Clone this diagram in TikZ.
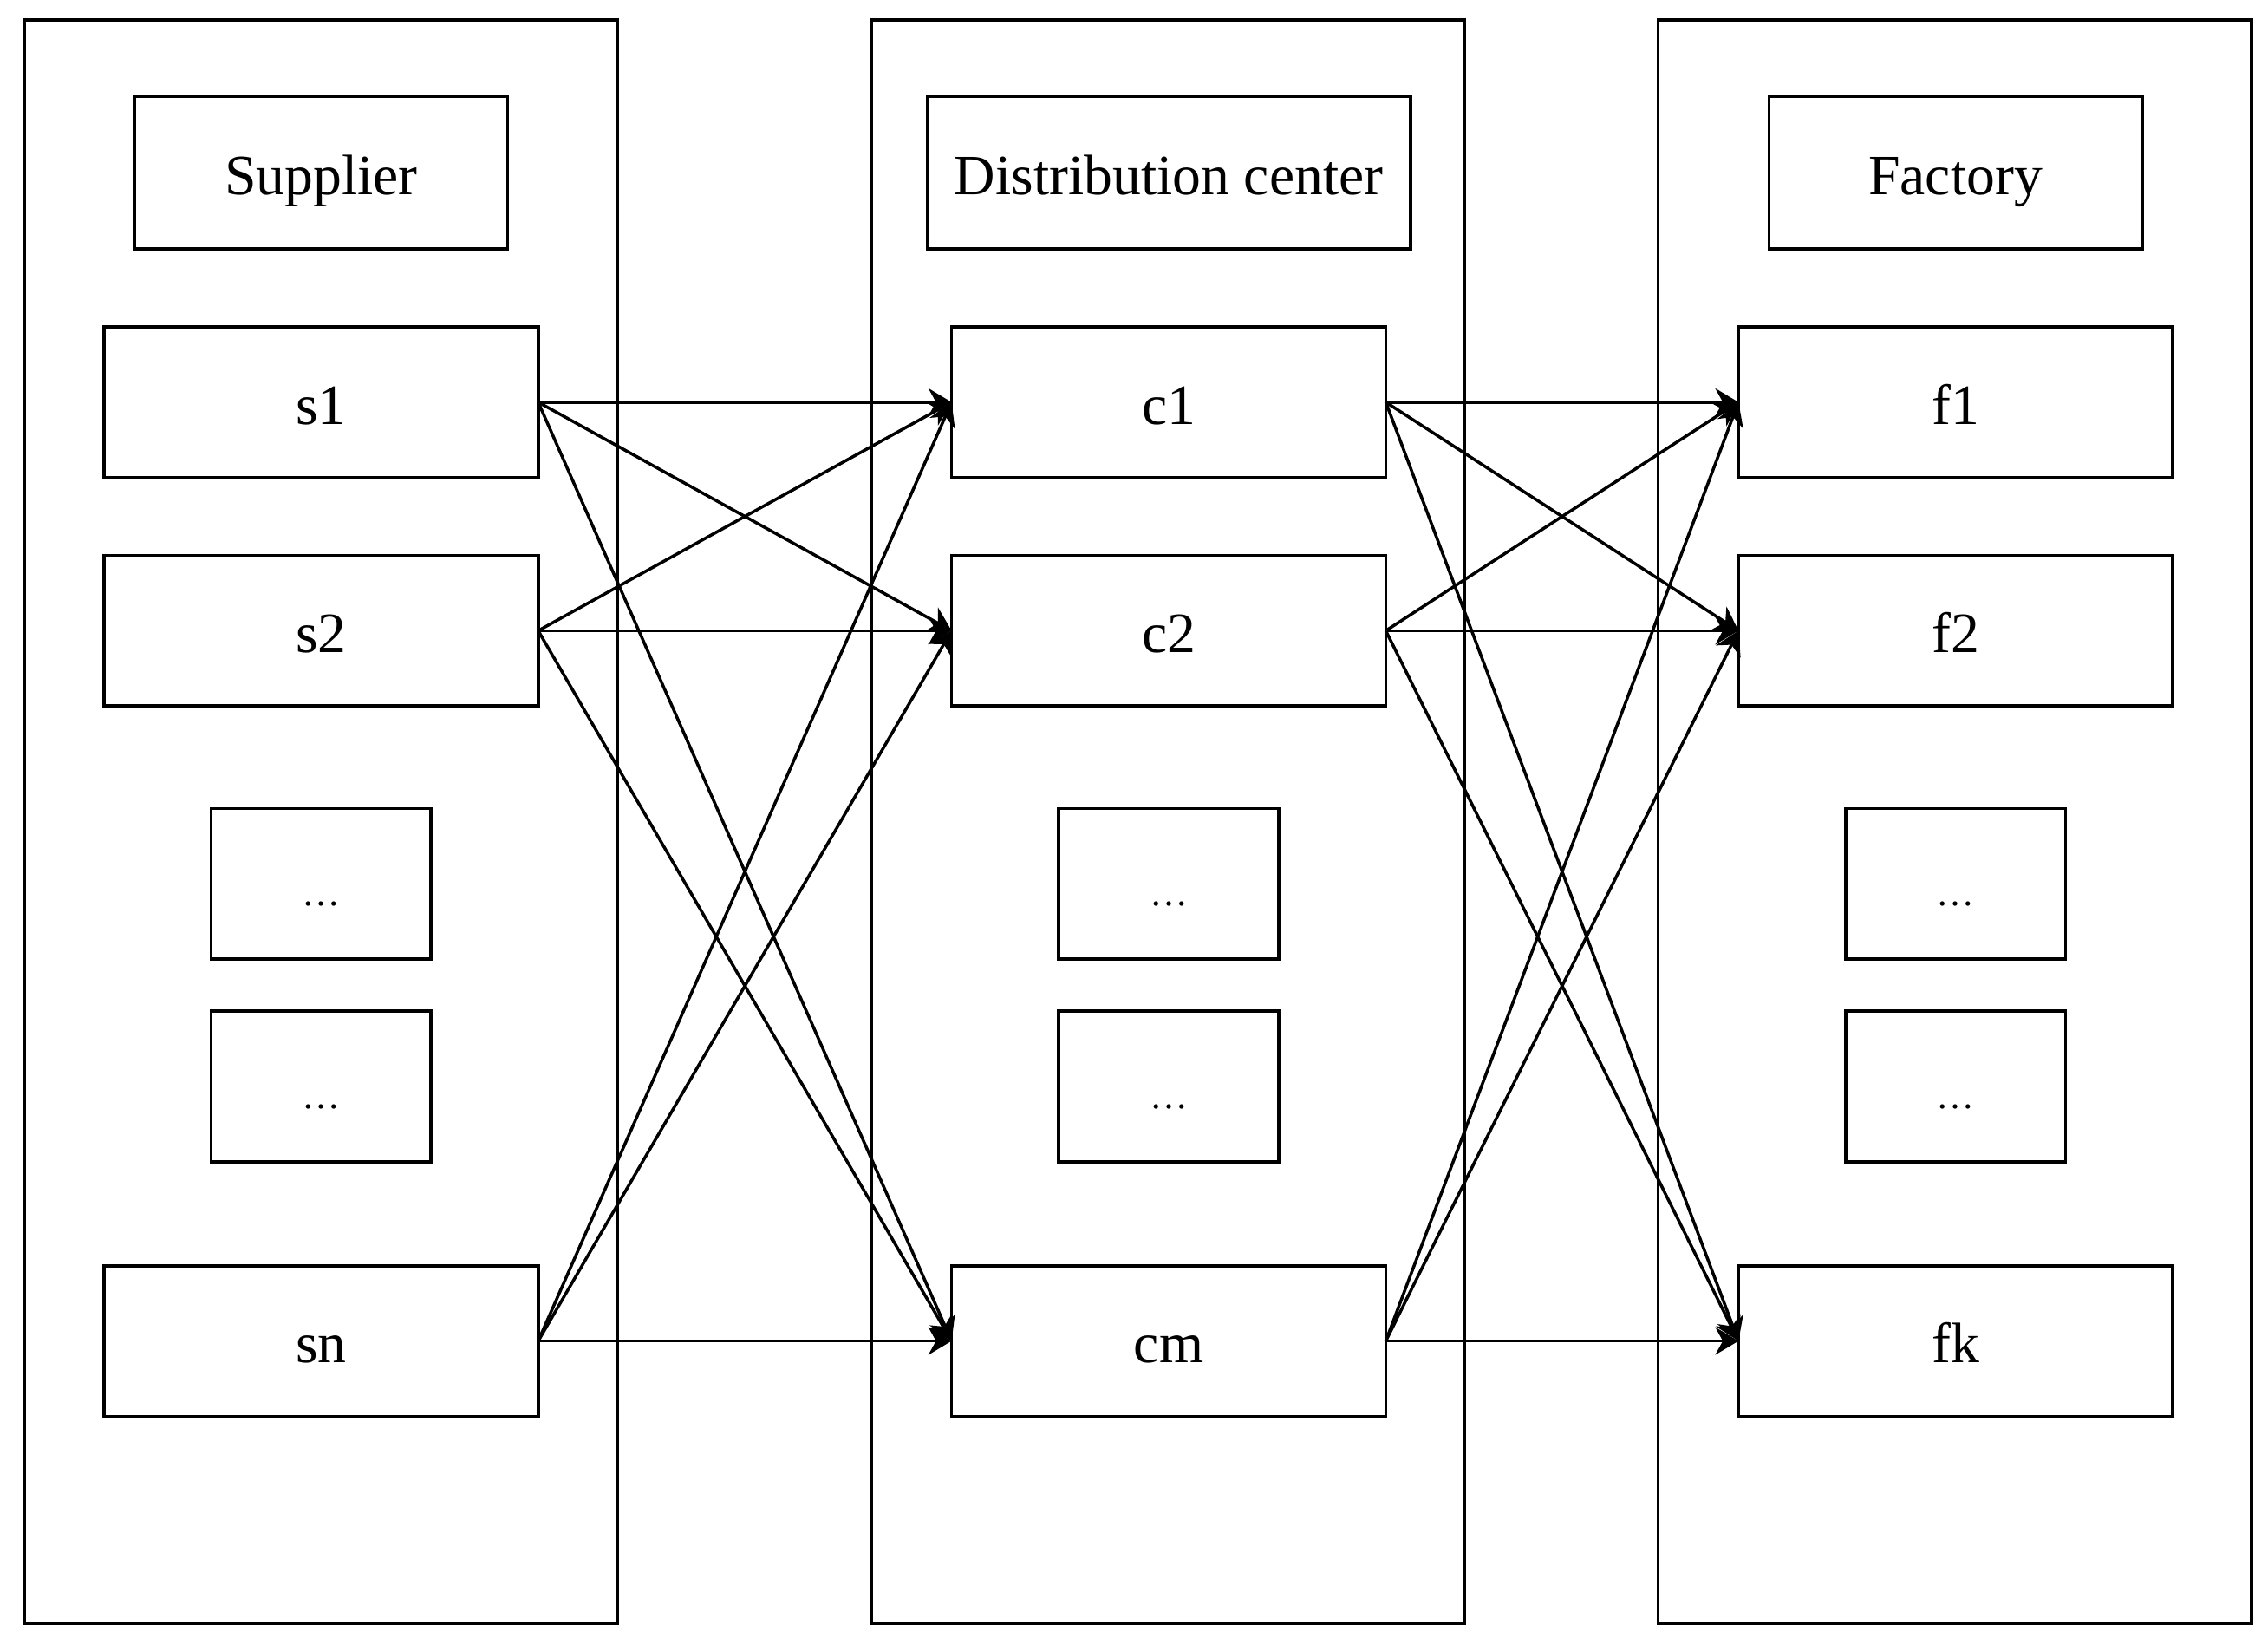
\documentclass[tikz,border=0pt]{standalone}
\usepackage{fontspec}
\setmainfont{Liberation Serif}
\usetikzlibrary{arrows.meta}

\begin{document}
\begin{tikzpicture}[
    x=0.01cm, y=-0.01cm,
    every node/.style={draw, line width=0.6pt, inner sep=0pt, outer sep=0pt,
                       text height=11pt, text depth=2.4pt,
                       font=\fontsize{11.2}{13}\selectfont},
    column/.style={minimum width=4.1cm, minimum height=11.08cm},
    header/.style={minimum width=2.58cm, minimum height=1.05cm},
    member/.style={minimum width=3cm, minimum height=1.04cm},
    more/.style={minimum width=1.52cm, minimum height=1.04cm,
                 font=\fontsize{7.5}{9}\selectfont},
    link/.style={line width=0.6pt, -{Stealth[length=1.6mm, width=1.9mm]}}
]
\useasboundingbox (0,0) rectangle (1568,1136);

% columns
\node[column] (supcol) at (222,568) {};
\node[column] (dccol) at (807.5,568) {};
\node[column] (faccol) at (1351.5,568) {};

% headers
\node[header] (supplier) at (222,119.5) {Supplier};
\node[header, minimum width=3.34cm] (dc) at (808,119.5) {Distribution center};
\node[header] (factory) at (1352,119.5) {Factory};

% suppliers
\node[member] (s1) at (222,278) {s1};
\node[member] (s2) at (222,436) {s2};
\node[more] (sdots1) at (222,611) {…};
\node[more] (sdots2) at (222,751) {…};
\node[member] (sn) at (222,927) {sn};

% distribution centers
\node[member] (c1) at (808,278) {c1};
\node[member] (c2) at (808,436) {c2};
\node[more] (cdots1) at (808,611) {…};
\node[more] (cdots2) at (808,751) {…};
\node[member] (cm) at (808,927) {cm};

% factories
\node[member] (f1) at (1352,278) {f1};
\node[member] (f2) at (1352,436) {f2};
\node[more] (fdots1) at (1352,611) {…};
\node[more] (fdots2) at (1352,751) {…};
\node[member] (fk) at (1352,927) {fk};

% flows
\foreach \a in {s1,s2,sn}
  \foreach \b in {c1,c2,cm}
    \draw[link] (\a.east) -- (\b.west);
\foreach \a in {c1,c2,cm}
  \foreach \b in {f1,f2,fk}
    \draw[link] (\a.east) -- (\b.west);
\end{tikzpicture}
\end{document}
